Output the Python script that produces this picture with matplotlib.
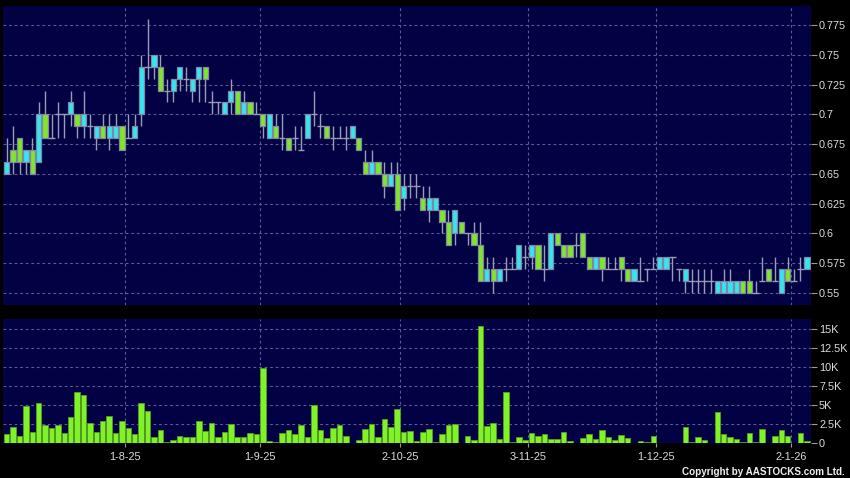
import matplotlib
matplotlib.use("Agg")
import matplotlib.pyplot as plt
from matplotlib.ticker import FixedLocator, FuncFormatter

# ---------------- data ----------------
opens = [0.65, 0.67, 0.68, 0.66, 0.67, 0.66, 0.70, 0.68, 0.70, 0.70,
         0.70, 0.70, 0.69, 0.69, 0.68, 0.69, 0.68, 0.68, 0.69, 0.68,
         0.68, 0.70, 0.74, 0.74, 0.74, 0.72, 0.72, 0.73, 0.73, 0.72,
         0.73, 0.74, 0.71, 0.71, 0.70, 0.71, 0.72, 0.70, 0.71, 0.70,
         0.70, 0.68, 0.69, 0.68, 0.68, 0.68, 0.67, 0.68, 0.70, 0.69,
         0.69, 0.68, 0.68, 0.68, 0.68, 0.68, 0.66, 0.65, 0.66, 0.65,
         0.64, 0.65, 0.63, 0.64, 0.64, 0.63, 0.62, 0.62, 0.62, 0.61,
         0.60, 0.61, 0.60, 0.60, 0.59, 0.56, 0.57, 0.56, 0.57, 0.57,
         0.57, 0.58, 0.58, 0.59, 0.57, 0.57, 0.60, 0.59, 0.59, 0.59,
         0.60, 0.58, 0.57, 0.58, 0.57, 0.57, 0.58, 0.57, 0.56, 0.56,
         0.57, 0.57, 0.57, 0.57, 0.58, 0.57, 0.56, 0.56, 0.56, 0.56,
         0.56, 0.55, 0.55, 0.55, 0.55, 0.56, 0.56, 0.55, 0.56, 0.57,
         0.56, 0.55, 0.57, 0.56, 0.57, 0.57]
highs = [0.68, 0.69, 0.68, 0.67, 0.68, 0.71, 0.72, 0.70, 0.71, 0.70,
         0.72, 0.70, 0.72, 0.70, 0.69, 0.70, 0.70, 0.70, 0.69, 0.70,
         0.70, 0.75, 0.78, 0.75, 0.75, 0.73, 0.73, 0.74, 0.74, 0.73,
         0.74, 0.74, 0.72, 0.71, 0.71, 0.73, 0.72, 0.72, 0.71, 0.71,
         0.70, 0.70, 0.70, 0.70, 0.68, 0.69, 0.69, 0.70, 0.72, 0.70,
         0.69, 0.69, 0.69, 0.69, 0.69, 0.68, 0.67, 0.67, 0.66, 0.66,
         0.66, 0.66, 0.65, 0.65, 0.65, 0.64, 0.64, 0.63, 0.62, 0.62,
         0.62, 0.61, 0.60, 0.61, 0.61, 0.58, 0.58, 0.57, 0.58, 0.58,
         0.59, 0.59, 0.59, 0.59, 0.59, 0.60, 0.60, 0.59, 0.59, 0.60,
         0.60, 0.58, 0.58, 0.58, 0.58, 0.58, 0.58, 0.57, 0.57, 0.58,
         0.57, 0.58, 0.58, 0.58, 0.58, 0.57, 0.57, 0.57, 0.57, 0.57,
         0.57, 0.56, 0.57, 0.57, 0.56, 0.56, 0.57, 0.56, 0.58, 0.57,
         0.58, 0.57, 0.58, 0.57, 0.58, 0.58]
lows = [0.65, 0.65, 0.65, 0.65, 0.65, 0.66, 0.68, 0.68, 0.68, 0.68,
        0.69, 0.68, 0.68, 0.68, 0.67, 0.68, 0.67, 0.68, 0.67, 0.68,
        0.68, 0.69, 0.73, 0.73, 0.72, 0.71, 0.71, 0.72, 0.72, 0.71,
        0.71, 0.71, 0.70, 0.70, 0.70, 0.70, 0.70, 0.70, 0.70, 0.70,
        0.68, 0.68, 0.68, 0.67, 0.67, 0.67, 0.67, 0.68, 0.69, 0.68,
        0.68, 0.67, 0.68, 0.67, 0.68, 0.67, 0.65, 0.65, 0.65, 0.63,
        0.64, 0.62, 0.62, 0.63, 0.63, 0.62, 0.61, 0.62, 0.60, 0.59,
        0.59, 0.60, 0.59, 0.59, 0.56, 0.56, 0.55, 0.56, 0.56, 0.57,
        0.57, 0.57, 0.57, 0.57, 0.56, 0.57, 0.59, 0.58, 0.58, 0.58,
        0.58, 0.57, 0.57, 0.56, 0.57, 0.57, 0.56, 0.56, 0.56, 0.56,
        0.56, 0.57, 0.57, 0.57, 0.56, 0.56, 0.55, 0.55, 0.55, 0.55,
        0.55, 0.55, 0.55, 0.55, 0.55, 0.55, 0.55, 0.55, 0.56, 0.56,
        0.56, 0.55, 0.56, 0.56, 0.56, 0.57]
closes = [0.66, 0.66, 0.66, 0.67, 0.65, 0.70, 0.68, 0.68, 0.70, 0.70,
          0.71, 0.69, 0.70, 0.69, 0.69, 0.68, 0.69, 0.69, 0.67, 0.68,
          0.69, 0.74, 0.74, 0.75, 0.72, 0.72, 0.73, 0.74, 0.73, 0.73,
          0.74, 0.73, 0.71, 0.71, 0.71, 0.72, 0.70, 0.71, 0.70, 0.70,
          0.69, 0.70, 0.68, 0.68, 0.67, 0.68, 0.67, 0.70, 0.70, 0.69,
          0.68, 0.68, 0.68, 0.68, 0.69, 0.67, 0.65, 0.66, 0.65, 0.64,
          0.65, 0.62, 0.64, 0.64, 0.64, 0.62, 0.63, 0.63, 0.61, 0.59,
          0.62, 0.60, 0.60, 0.59, 0.56, 0.57, 0.56, 0.57, 0.57, 0.57,
          0.59, 0.58, 0.59, 0.57, 0.57, 0.60, 0.59, 0.58, 0.58, 0.59,
          0.58, 0.57, 0.58, 0.57, 0.57, 0.57, 0.57, 0.56, 0.57, 0.56,
          0.57, 0.57, 0.58, 0.58, 0.58, 0.57, 0.57, 0.56, 0.56, 0.56,
          0.56, 0.56, 0.56, 0.56, 0.56, 0.55, 0.55, 0.55, 0.56, 0.56,
          0.56, 0.57, 0.56, 0.56, 0.57, 0.58]
volumes = [1180, 2100, 1000, 4850, 1570, 5330, 2360, 1970, 2360, 1400,
           3500, 6800, 6300, 2670, 1490, 2970, 3600, 1400, 3000, 1970,
           1180, 5300, 4240, 870, 1800, 200, 440, 920, 830, 830,
           2930, 1700, 2670, 870, 1440, 2500, 790, 790, 1400, 1180,
           9900, 300, 170, 1360, 1750, 1220, 2360, 830, 5000, 1800,
           740, 1970, 2450, 960, 100, 520, 1920, 2500, 790, 3150,
           2140, 4460, 1440, 1620, 390, 1440, 1880, 170, 1220, 2450,
           2600, 60, 960, 440, 15400, 2270, 2710, 610, 6700, 260,
           870, 440, 1360, 1000, 1180, 610, 610, 1530, 390, 40,
           700, 1180, 570, 1750, 870, 440, 1050, 700, 30, 300,
           170, 1000, 30, 40, 90, 30, 2140, 170, 830, 480,
           90, 4100, 1270, 830, 610, 220, 1360, 170, 1840, 90,
           960, 1750, 960, 90, 1360, 350]

date_tick_index = [19, 40, 62, 82, 102, 123]
date_tick_labels = ["1-8-25", "1-9-25", "2-10-25", "3-11-25", "1-12-25", "2-1-26"]
price_ticks = [0.55, 0.575, 0.6, 0.625, 0.65, 0.675, 0.7, 0.725, 0.75, 0.775]
volume_ticks = [0, 2500, 5000, 7500, 10000, 12500, 15000]
copyright_text = "Copyright by AASTOCKS.com Ltd."

# ---------------- style ----------------
BG = "#000000"
PANEL = "#010143"
UP = "#33e6f0"
DOWN = "#7fe628"
EDGE = "#8486a6"
WICK = "#9a9cb8"
GRID = "#5a5c92"
VOL = "#7ff22a"
VOL_EDGE = "#55a01e"
TXT = "#dcdcdc"
FONT = "Liberation Sans"

fig = plt.figure(figsize=(8.5, 4.78), dpi=100, facecolor=BG)
ax1 = fig.add_axes([0.0039, 0.3619, 0.9499, 0.6255], facecolor=PANEL)
ax2 = fig.add_axes([0.0039, 0.0722, 0.9499, 0.2604], facecolor=PANEL)

n = len(closes)
idx = list(range(n))
grid_pos = [p - 0.5 for p in date_tick_index]

for ax in (ax1, ax2):
    for s in ax.spines.values():
        s.set_visible(False)
    ax.set_xlim(-0.53, n - 0.4)
    ax.yaxis.tick_right()
    ax.tick_params(axis="y", colors="#9a9a9a", length=4, width=0.8, pad=2,
                   labelcolor=TXT, labelsize=7.8)
    for v in grid_pos:
        ax.axvline(v, color=GRID, lw=0.8, ls=(0, (2.5, 2.5)), zorder=0.5)

# ---- price panel ----
ax1.set_ylim(0.5399, 0.7910)
ax1.yaxis.set_major_locator(FixedLocator(price_ticks))
ax1.yaxis.set_major_formatter(FuncFormatter(lambda v, p: ("%.3f" % v).rstrip("0").rstrip(".")))
for v in price_ticks:
    ax1.axhline(v, color=GRID, lw=0.8, ls=(0, (2.5, 2.5)), zorder=0.5)
ax1.set_xticks([])

ax1.vlines(idx, lows, highs, color=WICK, lw=1.0, zorder=2)
bw = 0.82
for i in idx:
    o, c = opens[i], closes[i]
    if abs(c - o) < 1e-9:
        ax1.hlines(o, i - 0.5, i + 0.5, color=WICK, lw=1.0, zorder=2)
    else:
        col = UP if c > o else DOWN
        ax1.bar(i, abs(c - o), bottom=min(o, c), width=bw, color=col,
                edgecolor=EDGE, linewidth=0.9, zorder=3)

# ---- volume panel ----
ax2.set_ylim(0, 16310)
ax2.yaxis.set_major_locator(FixedLocator(volume_ticks))
ax2.yaxis.set_major_formatter(FuncFormatter(
    lambda v, p: "0" if v == 0 else ("%gK" % (v / 1000.0))))
for v in volume_ticks:
    ax2.axhline(v, color=GRID, lw=0.8, ls=(0, (2.5, 2.5)), zorder=0.5)
ax2.bar(idx, volumes, width=0.86, color=VOL, edgecolor=VOL_EDGE, linewidth=0.6, zorder=3)
ax2.set_xticks(grid_pos)
ax2.set_xticklabels(date_tick_labels)
ax2.tick_params(axis="x", colors="#9a9a9a", length=3, width=0.8, pad=3,
                labelcolor=TXT, labelsize=7.8)
for lab in ax1.get_yticklabels() + ax2.get_yticklabels() + ax2.get_xticklabels():
    lab.set_fontfamily(FONT)

fig.text(0.994, 0.003, copyright_text, ha="right", va="bottom", color="#f0f0f0",
         fontsize=7.1, fontweight="bold", fontfamily=FONT)

fig.savefig("out.png", dpi=100, facecolor=BG)
